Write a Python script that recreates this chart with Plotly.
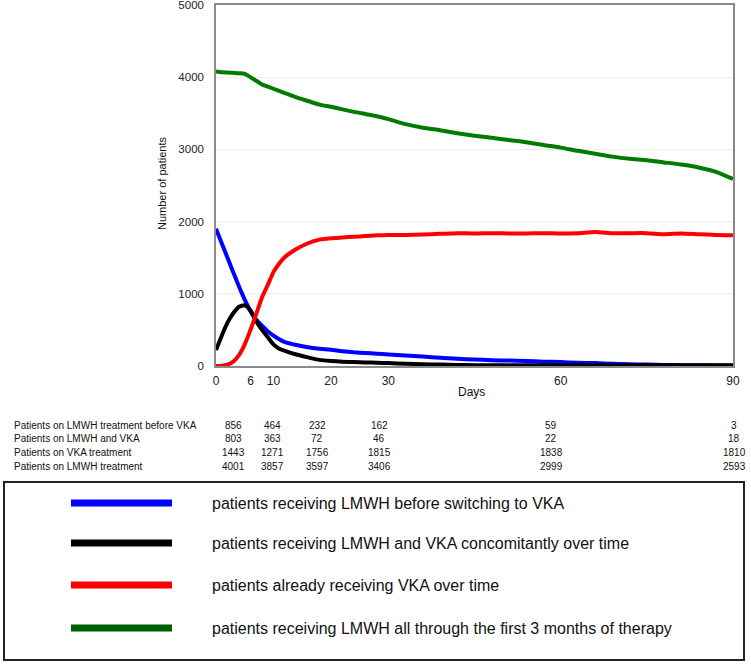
import plotly.graph_objects as go

# ---------------- data ----------------
days = [0, 1, 2, 3, 4, 5, 6, 7, 8, 9, 10, 11, 12, 14, 16, 18, 20, 22, 24, 26, 28, 30,
        33, 36, 39, 42, 45, 48, 51, 54, 57, 60, 63, 66, 69, 72, 75, 78, 81, 84, 87, 90]

lmwh_before_vka = [1900, 1700, 1500, 1300, 1100, 920, 760, 640, 560, 480, 420, 370, 330,
                   290, 260, 240, 225, 205, 190, 180, 170, 160, 145, 130, 115, 100, 90, 80,
                   75, 70, 60, 55, 45, 40, 30, 25, 20, 15, 10, 10, 8, 5]

lmwh_and_vka = [220, 420, 600, 730, 820, 840, 770, 620, 500, 400, 300, 240, 210, 160,
                120, 85, 70, 60, 55, 50, 45, 40, 30, 25, 20, 15, 12, 10, 10, 10, 10, 10,
                10, 10, 10, 10, 10, 10, 10, 10, 10, 10]

vka_only = [0, 5, 20, 60, 150, 300, 500, 720, 950, 1120, 1300, 1420, 1510, 1620, 1700,
            1750, 1770, 1780, 1790, 1800, 1810, 1815, 1815, 1820, 1830, 1840, 1835, 1840,
            1835, 1835, 1840, 1835, 1840, 1855, 1840, 1840, 1840, 1825, 1835, 1825, 1815, 1812]

lmwh_all_through = [4080, 4070, 4065, 4060, 4055, 4045, 4000, 3950, 3900, 3870, 3840, 3810,
                    3780, 3720, 3670, 3620, 3590, 3555, 3520, 3490, 3460, 3420, 3350, 3300,
                    3265, 3225, 3190, 3160, 3130, 3100, 3060, 3025, 2980, 2940, 2900, 2870,
                    2850, 2820, 2790, 2750, 2690, 2590]

x_tick_vals = [0, 6, 10, 20, 30, 60, 90]
y_tick_vals = [0, 1000, 2000, 3000, 4000, 5000]

table_row_labels = ["Patients on LMWH treatment before VKA",
                    "Patients on LMWH and VKA",
                    "Patients on VKA treatment",
                    "Patients on LMWH treatment"]
table_before_vka = [856, 464, 232, 162, 59, 3]
table_lmwh_and_vka = [803, 363, 72, 46, 22, 18]
table_vka = [1443, 1271, 1756, 1815, 1838, 1810]
table_lmwh = [4001, 3857, 3597, 3406, 2999, 2593]

legend_labels = ["patients receiving LMWH before switching to VKA",
                 "patients receiving LMWH and VKA concomitantly over time",
                 "patients already receiving VKA over time",
                 "patients receiving LMWH all through the first 3 months of therapy"]

# ---------------- layout helpers ----------------
W, H = 751, 664
ML, MR, MT, MB = 216, 18, 5, 298
PW = W - ML - MR
PH = H - MT - MB


def px(x):
    return (x - ML) / PW


def py(y):
    return (H - MB - y) / PH


FONT = "Liberation Sans, Arial, sans-serif"
curve_colors = ["#0000ff", "#000000", "#ff0000", "#007a00"]
swatch_colors = ["#0000ff", "#000000", "#ff0000", "#006000"]

fig = go.Figure()
series = [lmwh_before_vka, lmwh_and_vka, vka_only, lmwh_all_through]
for name, vals, col in zip(legend_labels, series, curve_colors):
    fig.add_trace(go.Scatter(x=days, y=vals, mode="lines", name=name,
                             line=dict(color=col, width=4, shape="spline", smoothing=0.6),
                             showlegend=False, hoverinfo="skip"))

fig.update_layout(
    width=W, height=H,
    margin=dict(l=ML, r=MR, t=MT, b=MB, autoexpand=False),
    paper_bgcolor="white", plot_bgcolor="white",
    font=dict(family=FONT, size=11, color="#222"),
    showlegend=False,
)
fig.update_xaxes(range=[0, 90], tickvals=x_tick_vals, showgrid=False, zeroline=False,
                 showline=True, linecolor="#8a8a8a", linewidth=1.5, mirror=True,
                 ticks="outside", ticklen=3, tickcolor="rgba(0,0,0,0)",
                 tickfont=dict(size=12, color="#222"), automargin=False)
fig.update_yaxes(range=[0, 5000], tickvals=y_tick_vals, showgrid=True, gridcolor="#ececec",
                 zeroline=False, showline=True, linecolor="#8a8a8a", linewidth=1.5,
                 mirror=True, ticks="outside", ticklen=8, tickcolor="rgba(0,0,0,0)",
                 tickfont=dict(size=11.5, color="#222"),
                 ticklabeloverflow="allow", automargin=False)

annotations = []
annotations.append(dict(text="Number of patients", x=px(162), y=py(184), xref="paper",
                        yref="paper", xanchor="center", yanchor="middle", showarrow=False,
                        textangle=-90, font=dict(size=11, color="#111")))
annotations.append(dict(text="Days", x=px(471), y=py(392), xref="paper", yref="paper",
                        xanchor="center", yanchor="middle", showarrow=False,
                        font=dict(size=12, color="#111")))

# table
row_y = [425, 438, 452, 466]
col_x = [233, 272, 317, 379, 551, 734]
table_vals = [table_before_vka, table_lmwh_and_vka, table_vka, table_lmwh]
for lab, ry, vals in zip(table_row_labels, row_y, table_vals):
    annotations.append(dict(text=lab, x=px(12), y=py(ry), xref="paper", yref="paper",
                            xanchor="left", yanchor="middle", showarrow=False,
                            font=dict(size=10, color="#111")))
    for cx, v in zip(col_x, vals):
        annotations.append(dict(text=str(v), x=px(cx), y=py(ry), xref="paper",
                                yref="paper", xanchor="center", yanchor="middle",
                                showarrow=False, font=dict(size=10, color="#111")))

# legend box
shapes = [dict(type="rect", xref="paper", yref="paper", x0=px(4), x1=px(744),
               y0=py(482), y1=py(660), line=dict(color="#222", width=2),
               fillcolor="rgba(0,0,0,0)")]
leg_y = [503, 543, 585, 628]
for lab, ly, col in zip(legend_labels, leg_y, swatch_colors):
    shapes.append(dict(type="line", xref="paper", yref="paper", x0=px(71), x1=px(172),
                       y0=py(ly), y1=py(ly), line=dict(color=col, width=7)))
    annotations.append(dict(text=lab, x=px(210), y=py(ly), xref="paper", yref="paper",
                            xanchor="left", yanchor="middle", showarrow=False,
                            font=dict(size=16, color="#111")))

fig.update_layout(annotations=annotations, shapes=shapes)
fig.write_html("out.html", config={"displayModeBar": False},
               post_script="document.body.style.margin='0';document.body.style.padding='0';")
